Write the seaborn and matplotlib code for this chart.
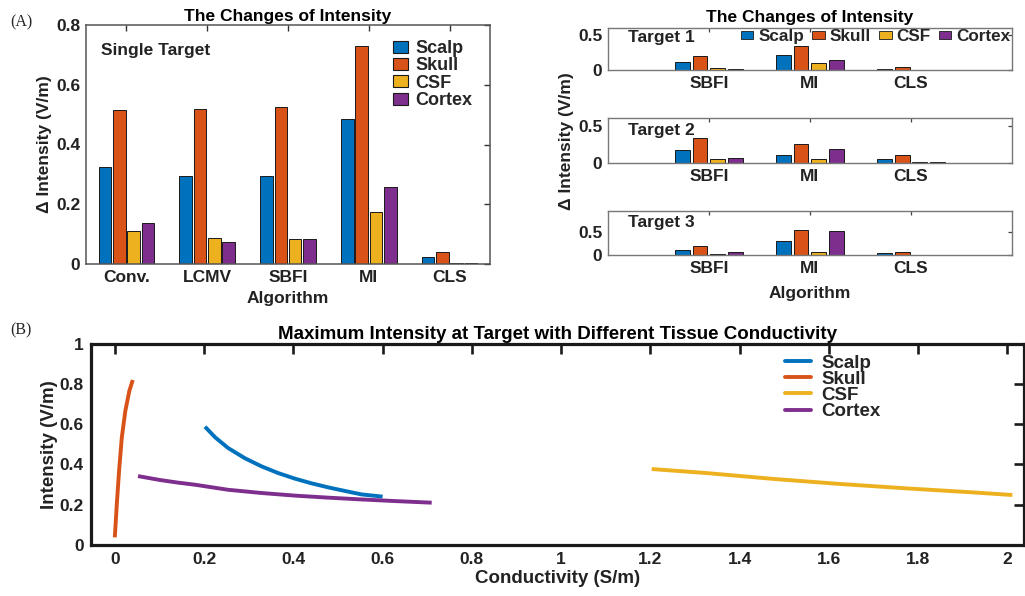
import numpy as np
import pandas as pd
import matplotlib
matplotlib.use("Agg")
import matplotlib.pyplot as plt
import seaborn as sns
from matplotlib.patches import Patch
from matplotlib.lines import Line2D

# ---- data -------------------------------------------------------------
tissues = ["Scalp", "Skull", "CSF", "Cortex"]
tissue_colors = ["#0072BD", "#D95319", "#EDB120", "#7E2F8E"]

single_algorithms = ["Conv.", "LCMV", "SBFI", "MI", "CLS"]
single_scalp = [0.326, 0.293, 0.296, 0.486, 0.022]
single_skull = [0.516, 0.520, 0.525, 0.730, 0.041]
single_csf = [0.111, 0.088, 0.085, 0.174, 0.004]
single_cortex = [0.136, 0.072, 0.084, 0.257, 0.004]

multi_algorithms = ["SBFI", "MI", "CLS"]
target1_scalp = [0.120, 0.218, 0.023]
target1_skull = [0.200, 0.338, 0.042]
target1_csf = [0.032, 0.097, 0.002]
target1_cortex = [0.019, 0.144, 0.001]

target2_scalp = [0.180, 0.110, 0.053]
target2_skull = [0.333, 0.259, 0.105]
target2_csf = [0.048, 0.053, 0.009]
target2_cortex = [0.061, 0.184, 0.009]

target3_scalp = [0.123, 0.304, 0.043]
target3_skull = [0.196, 0.551, 0.072]
target3_csf = [0.029, 0.065, 0.003]
target3_cortex = [0.072, 0.529, 0.014]

scalp_sigma = [0.202, 0.225, 0.254, 0.292, 0.329, 0.366, 0.404, 0.441,
               0.478, 0.516, 0.553, 0.600]
scalp_intensity = [0.587, 0.534, 0.481, 0.430, 0.390, 0.357, 0.329, 0.306,
                   0.286, 0.268, 0.251, 0.240]
skull_sigma = [0.0, 0.0045, 0.0096, 0.0157, 0.0237, 0.0327, 0.0403]
skull_intensity = [0.038, 0.203, 0.369, 0.534, 0.667, 0.766, 0.819]
csf_sigma = [1.203, 1.326, 1.475, 1.624, 1.774, 1.923, 2.011]
csf_intensity = [0.377, 0.357, 0.328, 0.303, 0.281, 0.261, 0.248]
cortex_sigma = [0.052, 0.10, 0.14, 0.180, 0.254, 0.329, 0.404, 0.478,
                0.553, 0.628, 0.710]
cortex_intensity = [0.342, 0.323, 0.310, 0.299, 0.274, 0.258, 0.245, 0.235,
                    0.226, 0.218, 0.210]

# ---- style ------------------------------------------------------------
sns.set_style("white")
plt.rcParams["font.family"] = ["Liberation Sans", "DejaVu Sans"]
plt.rcParams["font.weight"] = "bold"
plt.rcParams["axes.labelweight"] = "bold"
plt.rcParams["axes.titleweight"] = "bold"
TXT = "#222222"
FS = 12.5

W, H = 1025, 596
fig = plt.figure(figsize=(W / 100, H / 100), dpi=100)


def box(left, top, right, bottom):
    return [left / W, 1 - bottom / H, (right - left) / W, (bottom - top) / H]


def fx(px):
    return px / W


def fy(py):
    return 1 - py / H


def long_frame(algorithms, scalp, skull, csf, cortex):
    rows = []
    for tissue, vals in zip(tissues, [scalp, skull, csf, cortex]):
        for alg, v in zip(algorithms, vals):
            rows.append({"Algorithm": alg, "Tissue": tissue, "Value": v})
    return pd.DataFrame(rows)


def bars(ax, df, order, width, gap):
    sns.barplot(data=df, x="Algorithm", y="Value", hue="Tissue",
                order=order, hue_order=tissues, palette=tissue_colors,
                saturation=1, width=width, gap=gap, errorbar=None,
                edgecolor="#1a1a1a", linewidth=0.7, legend=False, ax=ax)


def frame(ax, color, lw):
    for s in ax.spines.values():
        s.set_visible(True)
        s.set_color(color)
        s.set_linewidth(lw)


# ---- (A) single target ------------------------------------------------
ax1 = fig.add_axes(box(86, 25, 490, 264))
bars(ax1, long_frame(single_algorithms, single_scalp, single_skull,
                     single_csf, single_cortex), single_algorithms, 0.71, 0.12)
ax1.set_xlim(-0.5, 4.5)
ax1.set_ylim(0, 0.8)
ax1.set_yticks([0, 0.2, 0.4, 0.6, 0.8])
ax1.set_yticklabels(["0", "0.2", "0.4", "0.6", "0.8"])
frame(ax1, "#555555", 1.1)
ax1.tick_params(direction="in", top=True, right=True, length=4, width=1,
                color="#333333", labelsize=FS, labelcolor=TXT, pad=4)
ax1.set_xlabel("Algorithm", fontsize=FS, color=TXT, labelpad=5)
ax1.set_ylabel("\u0394 Intensity (V/m)", fontsize=FS, color=TXT, labelpad=3)
ax1.set_title("The Changes of Intensity", fontsize=FS, color="black", pad=3)
fig.text(fx(101), fy(51), "Single Target", fontsize=FS, fontweight="bold",
         color=TXT, va="center", ha="left")
handles = [Patch(facecolor=c, edgecolor="#1a1a1a", linewidth=0.8)
           for c in tissue_colors]
ax1.legend(handles, tissues, loc="upper left",
           bbox_to_anchor=(fx(384), fy(31)), bbox_transform=fig.transFigure,
           frameon=False, borderpad=0, handlelength=0.85, handleheight=0.65,
           handletextpad=0.4, labelspacing=0.02,
           prop={"size": 13, "weight": "bold"})

# ---- (A) three targets ------------------------------------------------
target_data = [
    (target1_scalp, target1_skull, target1_csf, target1_cortex),
    (target2_scalp, target2_skull, target2_csf, target2_cortex),
    (target3_scalp, target3_skull, target3_csf, target3_cortex),
]
target_boxes = [(27.7, 70.3), (118.3, 163.0), (211.0, 255.3)]
target_ylims = [0.6, 0.6, 0.96]
target_label_y = [37.5, 130, 222]
axes_t = []
for i, ((top, bottom), vals) in enumerate(zip(target_boxes, target_data)):
    ax = fig.add_axes(box(607.7, top, 1012, bottom))
    bars(ax, long_frame(multi_algorithms, *vals), multi_algorithms, 0.70, 0.16)
    ax.set_xlim(-1, 3)
    ax.set_ylim(0, target_ylims[i])
    ax.set_yticks([0, 0.5])
    ax.set_yticklabels(["0", "0.5"])
    frame(ax, "#777777", 1.0)
    ax.tick_params(direction="in", top=True, right=True, length=3, width=0.9,
                   color="#444444", labelsize=FS, labelcolor=TXT, pad=4)
    ax.set_xlabel("")
    ax.set_ylabel("")
    fig.text(fx(628), fy(target_label_y[i]), "Target %d" % (i + 1),
             fontsize=FS, fontweight="bold", color=TXT,
             va="center", ha="left")
    axes_t.append(ax)

axes_t[0].set_title("The Changes of Intensity", fontsize=FS,
                    color="black", pad=4)
axes_t[2].set_xlabel("Algorithm", fontsize=FS, color=TXT, labelpad=7)
fig.text(fx(567), fy(141), "\u0394 Intensity (V/m)", fontsize=FS,
         fontweight="bold", color=TXT, rotation=90, va="center", ha="center")
flat = [Patch(facecolor=c, edgecolor="#1a1a1a", linewidth=0.6)
        for c in tissue_colors]
axes_t[0].legend(flat, tissues, loc="center left",
                 bbox_to_anchor=(fx(732), fy(36.7)),
                 bbox_transform=fig.transFigure, ncol=4, frameon=False,
                 borderpad=0, handlelength=0.75, handleheight=0.3,
                 handletextpad=0.3, columnspacing=0.45,
                 prop={"size": 12.3, "weight": "bold"})

# ---- (B) conductivity sweep -------------------------------------------
line_rows = []
for tissue, xs, ys in zip(tissues,
                          [scalp_sigma, skull_sigma, csf_sigma, cortex_sigma],
                          [scalp_intensity, skull_intensity, csf_intensity,
                           cortex_intensity]):
    for x, y in zip(xs, ys):
        line_rows.append({"Conductivity": x, "Intensity": y, "Tissue": tissue})
line_df = pd.DataFrame(line_rows)

axb = fig.add_axes(box(90.7, 343.5, 1024, 545))
sns.lineplot(data=line_df, x="Conductivity", y="Intensity", hue="Tissue",
             hue_order=tissues, palette=tissue_colors, sort=False,
             estimator=None, linewidth=2.8, legend=False, ax=axb)
for ln in axb.get_lines():
    ln.set_solid_capstyle("butt")
    ln.set_solid_joinstyle("round")
axb.set_xlim(-0.054, 2.037)
axb.set_ylim(0, 1)
xt = [0, 0.2, 0.4, 0.6, 0.8, 1, 1.2, 1.4, 1.6, 1.8, 2]
axb.set_xticks(xt)
axb.set_xticklabels(["%g" % v for v in xt])
yt = [0, 0.2, 0.4, 0.6, 0.8, 1]
axb.set_yticks(yt)
axb.set_yticklabels(["%g" % v for v in yt])
frame(axb, "#1a1a1a", 2.3)
axb.tick_params(direction="in", top=True, right=True, length=7.5, width=1.9,
                color="#1a1a1a", labelsize=FS, labelcolor=TXT, pad=5)
axb.set_xlabel("Conductivity (S/m)", fontsize=13.5, color=TXT, labelpad=2)
axb.set_ylabel("Intensity (V/m)", fontsize=13.5, color=TXT, labelpad=1)
axb.set_title("Maximum Intensity at Target with Different Tissue Conductivity",
              fontsize=13.5, color="black", pad=3)
line_handles = [Line2D([0], [0], color=c, linewidth=2.8) for c in tissue_colors]
axb.legend(line_handles, tissues, loc="upper left",
           bbox_to_anchor=(fx(776), fy(345)), bbox_transform=fig.transFigure,
           frameon=False, borderpad=0, handlelength=1.35, handletextpad=0.55,
           labelspacing=-0.05, prop={"size": 13.5, "weight": "bold"})

# ---- panel tags --------------------------------------------------------
fig.text(fx(10), fy(22), "(A)", family=["Liberation Serif", "DejaVu Serif"],
         fontsize=11.5, fontweight="normal", va="center", ha="left")
fig.text(fx(10), fy(330), "(B)", family=["Liberation Serif", "DejaVu Serif"],
         fontsize=11.5, fontweight="normal", va="center", ha="left")

fig.savefig("out.png", dpi=100)
